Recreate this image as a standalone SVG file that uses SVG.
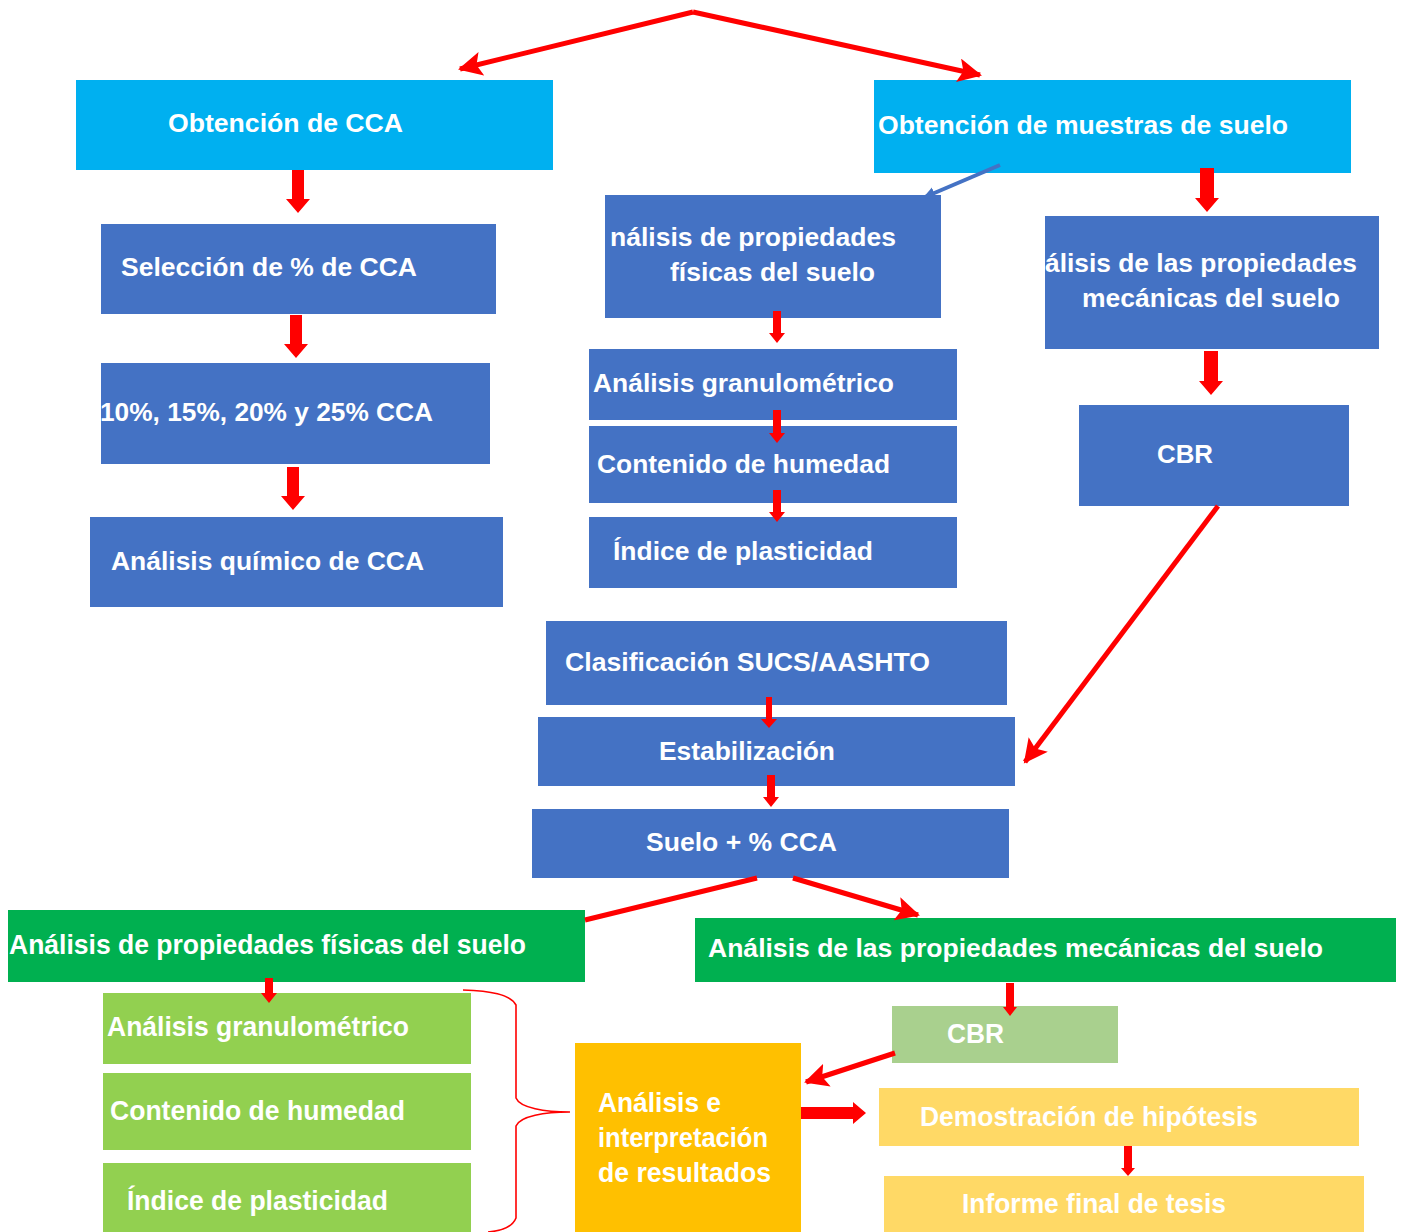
<svg xmlns="http://www.w3.org/2000/svg" width="1403" height="1232" viewBox="0 0 1403 1232">
<style>
text{font-family:"Liberation Sans",Arial,sans-serif;font-weight:bold;fill:#fff;font-size:25px}
.cond{font-size:27px}
.cy{fill:#00B0F0}.bl{fill:#4472C4}.dg{fill:#00B050}.lg{fill:#92D050}.sg{fill:#A9D08E}.or{fill:#FFC000}.ye{fill:#FFD966}
.blk{fill:#FF0000}
.ln{stroke:#FF0000;stroke-width:5;fill:none}
</style>
<defs>
<marker id="ah" markerUnits="userSpaceOnUse" markerWidth="26" markerHeight="24" refX="22" refY="12" orient="auto">
<path d="M0,0 L24,12 L0,24 L5,12 Z" fill="#FF0000"/>
</marker>
<marker id="ahb" markerUnits="userSpaceOnUse" markerWidth="14" markerHeight="14" refX="10" refY="7" orient="auto">
<path d="M0,1 L12,7 L0,13 Z" fill="#4472C4"/>
</marker>
<clipPath id="c1"><rect x="605" y="195" width="336" height="123"/></clipPath>
<clipPath id="c2"><rect x="1045" y="216" width="334" height="133"/></clipPath>
</defs>
<rect width="1403" height="1232" fill="#fff"/>

<g id="n1"><rect class="cy" x="76" y="80" width="477" height="90"/><text x="168" y="132" textLength="235" lengthAdjust="spacingAndGlyphs">Obtención de CCA</text></g>
<g id="n2"><rect class="cy" x="874" y="80" width="477" height="93"/><text x="878" y="134" textLength="410" lengthAdjust="spacingAndGlyphs">Obtención de muestras de suelo</text></g>
<g id="n3"><rect class="bl" x="101" y="224" width="395" height="90"/><text x="121" y="276" textLength="296" lengthAdjust="spacingAndGlyphs">Selección de % de CCA</text></g>
<g id="n4"><rect class="bl" x="101" y="363" width="389" height="101"/><text x="100" y="421" textLength="333" lengthAdjust="spacingAndGlyphs">10%, 15%, 20% y 25% CCA</text></g>
<g id="n5"><rect class="bl" x="90" y="517" width="413" height="90"/><text x="111" y="570" textLength="313" lengthAdjust="spacingAndGlyphs">Análisis químico de CCA</text></g>
<g id="n6"><rect class="bl" x="605" y="195" width="336" height="123"/><g clip-path="url(#c1)"><text x="610" y="246" textLength="286" lengthAdjust="spacingAndGlyphs">nálisis de propiedades</text><text x="670" y="281" textLength="205" lengthAdjust="spacingAndGlyphs">físicas del suelo</text></g></g>
<g id="n7"><rect class="bl" x="1045" y="216" width="334" height="133"/><g clip-path="url(#c2)"><text x="1045" y="272" textLength="312" lengthAdjust="spacingAndGlyphs">álisis de las propiedades</text><text x="1082" y="307" textLength="258" lengthAdjust="spacingAndGlyphs">mecánicas del suelo</text></g></g>
<g id="n8"><rect class="bl" x="1079" y="405" width="270" height="101"/><text x="1157" y="463" textLength="56" lengthAdjust="spacingAndGlyphs">CBR</text></g>
<g id="n9"><rect class="bl" x="589" y="349" width="368" height="71"/><text x="593" y="392" textLength="301" lengthAdjust="spacingAndGlyphs">Análisis granulométrico</text></g>
<g id="n10"><rect class="bl" x="589" y="426" width="368" height="77"/><text x="597" y="473" textLength="293" lengthAdjust="spacingAndGlyphs">Contenido de humedad</text></g>
<g id="n11"><rect class="bl" x="589" y="517" width="368" height="71"/><text x="613" y="560" textLength="260" lengthAdjust="spacingAndGlyphs">Índice de plasticidad</text></g>
<g id="n12"><rect class="bl" x="546" y="621" width="461" height="84"/><text x="565" y="671" textLength="365" lengthAdjust="spacingAndGlyphs">Clasificación SUCS/AASHTO</text></g>
<g id="n13"><rect class="bl" x="538" y="717" width="477" height="69"/><text x="659" y="760" textLength="176" lengthAdjust="spacingAndGlyphs">Estabilización</text></g>
<g id="n14"><rect class="bl" x="532" y="809" width="477" height="69"/><text x="646" y="851" textLength="191" lengthAdjust="spacingAndGlyphs">Suelo + % CCA</text></g>
<g id="n15"><rect class="dg" x="8" y="910" width="577" height="72"/><text class="cond" x="9" y="954" textLength="517" lengthAdjust="spacingAndGlyphs">Análisis de propiedades físicas del suelo</text></g>
<g id="n16"><rect class="dg" x="695" y="918" width="701" height="64"/><text x="708" y="957" textLength="615" lengthAdjust="spacingAndGlyphs">Análisis de las propiedades mecánicas del suelo</text></g>
<g id="n17"><rect class="lg" x="103" y="993" width="368" height="71"/><text class="cond" x="107" y="1036" textLength="302" lengthAdjust="spacingAndGlyphs">Análisis granulométrico</text></g>
<g id="n18"><rect class="lg" x="103" y="1073" width="368" height="77"/><text class="cond" x="110" y="1120" textLength="295" lengthAdjust="spacingAndGlyphs">Contenido de humedad</text></g>
<g id="n19"><rect class="lg" x="103" y="1163" width="368" height="69"/><text class="cond" x="127" y="1210" textLength="261" lengthAdjust="spacingAndGlyphs">Índice de plasticidad</text></g>
<g id="n20"><rect class="sg" x="892" y="1006" width="226" height="57"/><text class="cond" x="947" y="1043" textLength="57" lengthAdjust="spacingAndGlyphs">CBR</text></g>
<g id="n21"><rect class="or" x="575" y="1043" width="226" height="189"/><text class="cond" x="598" y="1112" textLength="123" lengthAdjust="spacingAndGlyphs">Análisis e</text><text class="cond" x="598" y="1147" textLength="170" lengthAdjust="spacingAndGlyphs">interpretación</text><text class="cond" x="598" y="1182" textLength="173" lengthAdjust="spacingAndGlyphs">de resultados</text></g>
<g id="n22"><rect class="ye" x="879" y="1088" width="480" height="58"/><text class="cond" x="920" y="1126" textLength="338" lengthAdjust="spacingAndGlyphs">Demostración de hipótesis</text></g>
<g id="n23"><rect class="ye" x="884" y="1176" width="480" height="56"/><text class="cond" x="962" y="1213" textLength="264" lengthAdjust="spacingAndGlyphs">Informe final de tesis</text></g>

<g id="connectors">
<line class="ln" x1="693" y1="12" x2="460" y2="69" marker-end="url(#ah)"/>
<line class="ln" x1="693" y1="12" x2="980" y2="75" marker-end="url(#ah)"/>
<line x1="1000" y1="165" x2="925" y2="197" stroke="#4472C4" stroke-width="4" marker-end="url(#ahb)"/>
<line class="ln" x1="1218" y1="506" x2="1025" y2="762" marker-end="url(#ah)"/>
<line class="ln" x1="757" y1="878" x2="585" y2="920"/>
<line class="ln" x1="793" y1="878" x2="918" y2="915" marker-end="url(#ah)"/>
<line class="ln" x1="895" y1="1053" x2="806" y2="1082" marker-end="url(#ah)"/>
<path d="M463,990 C490,991 510,994 516,1005 L516,1098 C520,1108 545,1112 570,1112 C545,1112 520,1116 516,1126 L516,1218 C512,1228 500,1231 488,1232" fill="none" stroke="#FF0000" stroke-width="1.6"/>
<path class="blk" d="M292,170 L304,170 L304,199 L310,199 L298,213 L286,199 L292,199 Z"/>
<path class="blk" d="M290,315 L302,315 L302,344 L308,344 L296,358 L284,344 L290,344 Z"/>
<path class="blk" d="M287,467 L299,467 L299,496 L305,496 L293,510 L281,496 L287,496 Z"/>
<path class="blk" d="M1200,168 L1214,168 L1214,198 L1219,198 L1207,212 L1195,198 L1200,198 Z"/>
<path class="blk" d="M1204,351 L1218,351 L1218,381 L1223,381 L1211,395 L1199,381 L1204,381 Z"/>
<path class="blk" d="M773,311 L781,311 L781,333 L785,333 L777,343 L769,333 L773,333 Z"/>
<path class="blk" d="M773,410 L781,410 L781,433 L785,433 L777,443 L769,433 L773,433 Z"/>
<path class="blk" d="M773,490 L781,490 L781,512 L785,512 L777,522 L769,512 L773,512 Z"/>
<path class="blk" d="M766,697 L772,697 L772,719 L777,719 L769,728 L761,719 L766,719 Z"/>
<path class="blk" d="M767,775 L775,775 L775,797 L779,797 L771,807 L763,797 L767,797 Z"/>
<path class="blk" d="M265,978 L273,978 L273,993 L277,993 L269,1003 L261,993 L265,993 Z"/>
<path class="blk" d="M1006,983 L1014,983 L1014,1007 L1017,1007 L1010,1016 L1003,1007 L1006,1007 Z"/>
<path class="blk" d="M1124,1146 L1132,1146 L1132,1168 L1135,1168 L1128,1176 L1121,1168 L1124,1168 Z"/>
<path class="blk" d="M801,1107 L853,1107 L853,1102 L866,1113 L853,1124 L853,1119 L801,1119 Z"/>
</g>
</svg>
